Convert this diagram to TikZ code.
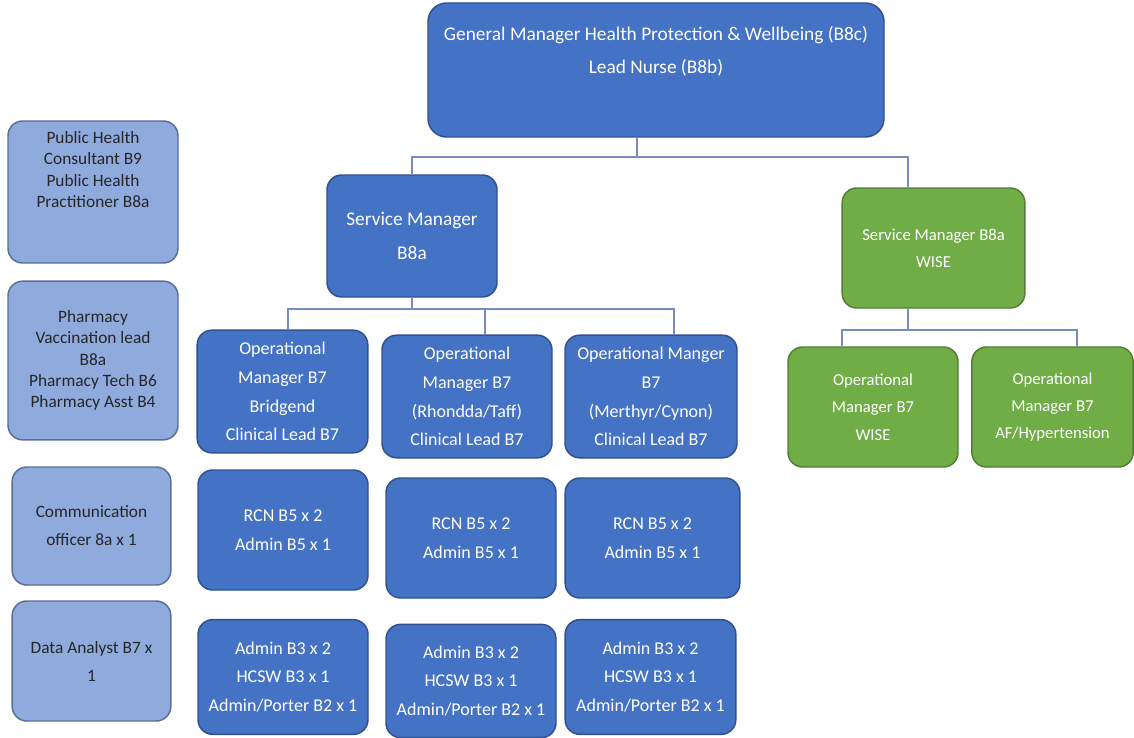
\documentclass[tikz,border=0pt]{standalone}
\usepackage{fontspec}
\setmainfont{Carlito}
\usepackage{tikz}

\definecolor{boxblue}{RGB}{68,114,196}
\definecolor{edgeblue}{RGB}{47,82,143}
\definecolor{boxgreen}{RGB}{112,173,71}
\definecolor{edgegreen}{RGB}{80,126,50}
\definecolor{boxlight}{RGB}{143,170,220}
\definecolor{edgelight}{RGB}{90,110,150}
\definecolor{linkcol}{RGB}{120,138,190}

\tikzset{
  orgbox/.style={rounded corners=11pt, line width=1.1pt, align=center, inner sep=2pt},
  bluebox/.style={orgbox, draw=edgeblue, fill=boxblue, text=white, font=\fontsize{13.5}{21.5}\selectfont},
  greenbox/.style={orgbox, draw=edgegreen, fill=boxgreen, text=white, font=\fontsize{12.5}{20.5}\selectfont},
  lightbox/.style={orgbox, draw=edgelight, fill=boxlight, text=black!85, font=\fontsize{13}{16}\selectfont},
  link/.style={draw=linkcol, line width=0.9pt}
}

\begin{document}
\begin{tikzpicture}[x=0.75pt,y=0.75pt,yscale=-1,xscale=1]
\useasboundingbox (0,0) rectangle (1134,738);

% top of the chart
\node[bluebox, rounded corners=14pt, minimum width=342pt, minimum height=100.5pt, text depth=30pt,
  font=\fontsize{14.5}{25}\selectfont] (gm) at (656,70)
  {General Manager Health Protection \& Wellbeing (B8c)\\Lead Nurse (B8b)};

% side column
\node[lightbox, minimum width=127.5pt, minimum height=106.5pt, text depth=34pt] (phc) at (93,192)
  {Public Health\\Consultant B9\\Public Health\\Practitioner B8a};
\node[lightbox, minimum width=127.5pt, minimum height=119pt] (pharm) at (93,360.5)
  {Pharmacy\\Vaccination lead\\B8a\\Pharmacy Tech B6\\Pharmacy Asst B4};
\node[lightbox, minimum width=119pt, minimum height=88.5pt, font=\fontsize{13}{21}\selectfont] (comms) at (91.5,526)
  {Communication\\officer 8a x 1};
\node[lightbox, minimum width=119pt, minimum height=90pt, font=\fontsize{13}{21}\selectfont] (data) at (91.5,661)
  {Data Analyst B7 x\\1};

% service managers
\node[bluebox, minimum width=127.5pt, minimum height=91.5pt, font=\fontsize{14.5}{25}\selectfont] (sm) at (412,236)
  {Service Manager\\B8a};
\node[greenbox, minimum width=137pt, minimum height=90pt] (wise) at (933.5,248)
  {Service Manager B8a\\WISE};

% operational managers
\node[bluebox, minimum width=128pt, minimum height=92pt] (op1) at (282.5,391.5)
  {Operational\\Manager B7\\Bridgend\\Clinical Lead B7};
\node[bluebox, minimum width=127.5pt, minimum height=92pt] (op2) at (467,396.5)
  {Operational\\Manager B7\\(Rhondda/Taff)\\Clinical Lead B7};
\node[bluebox, minimum width=129pt, minimum height=92pt] (op3) at (651,396.5)
  {Operational Manger\\B7\\(Merthyr/Cynon)\\Clinical Lead B7};
\node[greenbox, minimum width=127.5pt, minimum height=90pt] (gop1) at (873,407)
  {Operational\\Manager B7\\WISE};
\node[greenbox, minimum width=121pt, minimum height=90pt] (gop2) at (1052.5,407)
  {Operational\\Manager B7\\AF/Hypertension};

% staff rows
\node[bluebox, minimum width=127.5pt, minimum height=90pt] (rcn1) at (283,530) {RCN B5 x 2\\Admin B5 x 1};
\node[bluebox, minimum width=127.5pt, minimum height=90pt] (rcn2) at (471,538) {RCN B5 x 2\\Admin B5 x 1};
\node[bluebox, minimum width=131pt, minimum height=90pt] (rcn3) at (652.5,538) {RCN B5 x 2\\Admin B5 x 1};
\node[bluebox, minimum width=127.5pt, minimum height=86pt] (adm1) at (283,677)
  {Admin B3 x 2\\HCSW B3 x 1\\Admin/Porter B2 x 1};
\node[bluebox, minimum width=127.5pt, minimum height=85pt] (adm2) at (471,681)
  {Admin B3 x 2\\HCSW B3 x 1\\Admin/Porter B2 x 1};
\node[bluebox, minimum width=128pt, minimum height=86pt] (adm3) at (650.5,677)
  {Admin B3 x 2\\HCSW B3 x 1\\Admin/Porter B2 x 1};

% connectors
\coordinate (gmout) at (637,0);
\coordinate (bus1) at (637,157);
\coordinate (wisein) at (908,0);
\coordinate (bus2) at (412,309);
\coordinate (bus3) at (908,330);
\coordinate (op1in) at (288,0);
\coordinate (op2in) at (485,0);
\coordinate (op3in) at (674,0);
\coordinate (gop1in) at (842,0);
\coordinate (gop2in) at (1077,0);

\draw[link] (gm.south -| gmout) -- (bus1);
\draw[link] (sm.north) |- (bus1) -| (wise.north -| wisein);
\draw[link] (sm.south) -- (bus2);
\draw[link] (op1.north -| op1in) |- (bus2) -| (op3.north -| op3in);
\draw[link] (op2.north -| op2in) -- (op2in |- bus2);
\draw[link] (wise.south -| wisein) -- (bus3);
\draw[link] (gop1.north -| gop1in) |- (bus3) -| (gop2.north -| gop2in);
\end{tikzpicture}
\end{document}
